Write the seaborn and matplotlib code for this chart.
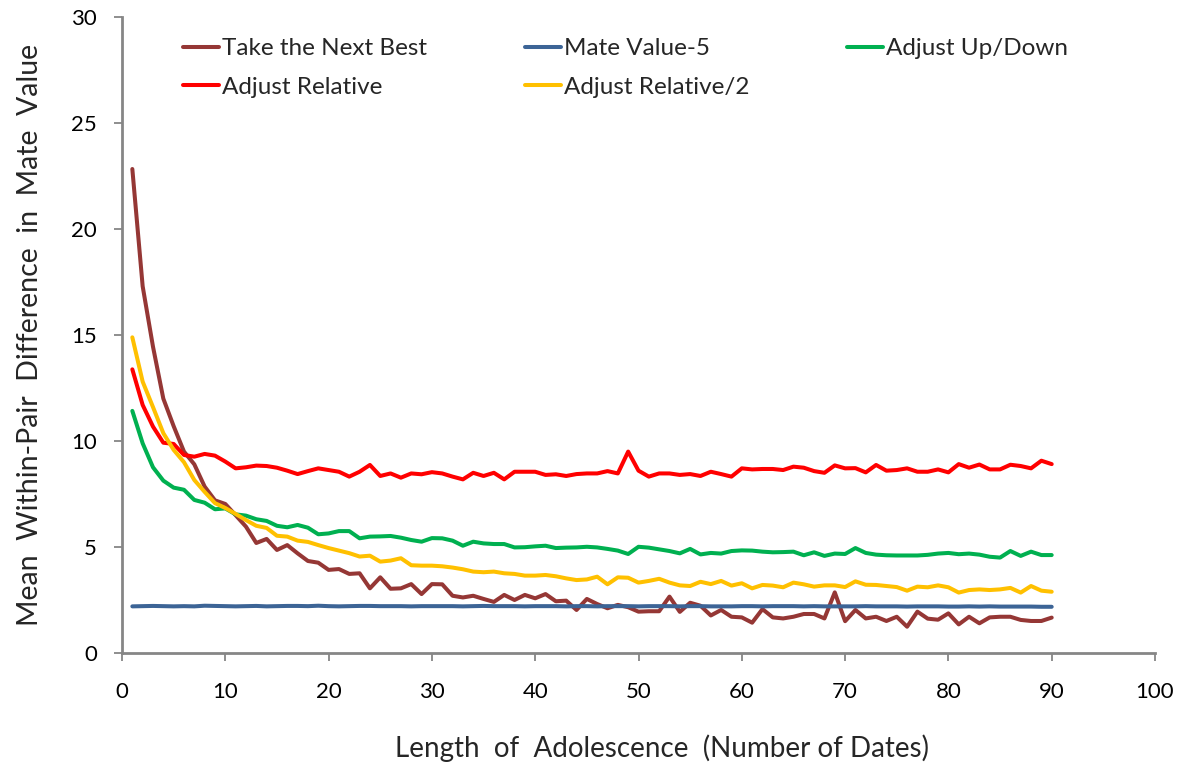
import numpy as np
import pandas as pd
import matplotlib
matplotlib.use("Agg")
import matplotlib.pyplot as plt
import seaborn as sns
from matplotlib.lines import Line2D

# Number of dates in the adolescence period (x axis)
dates = list(range(1, 91))

take_next_best = [
    22.83, 17.30, 14.45, 12.00, 10.70, 9.50, 8.90, 7.85, 7.20, 7.03,
    6.50, 5.96, 5.19, 5.38, 4.86, 5.09, 4.70, 4.34, 4.26, 3.92,
    3.96, 3.73, 3.76, 3.05, 3.57, 3.03, 3.05, 3.25, 2.78, 3.25,
    3.24, 2.70, 2.62, 2.70, 2.55, 2.41, 2.74, 2.50, 2.74, 2.58,
    2.78, 2.44, 2.47, 2.03, 2.55, 2.31, 2.11, 2.27, 2.16, 1.95,
    1.97, 1.97, 2.66, 1.94, 2.37, 2.23, 1.77, 2.03, 1.71, 1.68,
    1.43, 2.07, 1.68, 1.63, 1.71, 1.84, 1.84, 1.63, 2.86, 1.50,
    2.03, 1.63, 1.71, 1.51, 1.71, 1.24, 1.95, 1.62, 1.57, 1.87,
    1.35, 1.71, 1.40, 1.68, 1.71, 1.71, 1.56, 1.51, 1.51, 1.67,
]

mate_value_5 = [
    2.20, 2.21, 2.22, 2.21, 2.20, 2.21, 2.20, 2.23, 2.22, 2.21,
    2.20, 2.21, 2.22, 2.20, 2.21, 2.22, 2.22, 2.21, 2.23, 2.21,
    2.20, 2.21, 2.22, 2.22, 2.21, 2.21, 2.21, 2.20, 2.21, 2.21,
    2.21, 2.21, 2.20, 2.21, 2.22, 2.21, 2.21, 2.21, 2.20, 2.21,
    2.21, 2.21, 2.20, 2.21, 2.21, 2.20, 2.21, 2.21, 2.21, 2.20,
    2.21, 2.21, 2.21, 2.20, 2.21, 2.21, 2.20, 2.20, 2.20, 2.21,
    2.21, 2.20, 2.21, 2.21, 2.21, 2.20, 2.21, 2.20, 2.20, 2.20,
    2.20, 2.21, 2.20, 2.20, 2.20, 2.19, 2.20, 2.20, 2.20, 2.19,
    2.19, 2.20, 2.19, 2.20, 2.19, 2.19, 2.19, 2.19, 2.18, 2.18,
]

adjust_up_down = [
    11.42, 9.89, 8.76, 8.13, 7.80, 7.70, 7.22, 7.09, 6.78, 6.82,
    6.54, 6.48, 6.31, 6.23, 6.00, 5.93, 6.04, 5.91, 5.60, 5.64,
    5.75, 5.75, 5.41, 5.49, 5.50, 5.52, 5.44, 5.33, 5.25, 5.42,
    5.41, 5.30, 5.06, 5.25, 5.17, 5.14, 5.14, 4.98, 4.99, 5.03,
    5.06, 4.95, 4.97, 4.98, 5.01, 4.98, 4.91, 4.83, 4.67, 5.01,
    4.97, 4.89, 4.81, 4.70, 4.91, 4.65, 4.72, 4.69, 4.81, 4.84,
    4.83, 4.78, 4.75, 4.76, 4.78, 4.61, 4.75, 4.58, 4.69, 4.67,
    4.95, 4.72, 4.64, 4.61, 4.60, 4.60, 4.60, 4.63, 4.69, 4.72,
    4.66, 4.69, 4.64, 4.54, 4.50, 4.81, 4.58, 4.78, 4.62, 4.62,
]

adjust_relative = [
    13.38, 11.70, 10.68, 9.92, 9.86, 9.34, 9.26, 9.39, 9.31, 9.03,
    8.71, 8.76, 8.84, 8.82, 8.74, 8.60, 8.44, 8.58, 8.71, 8.63,
    8.55, 8.32, 8.55, 8.87, 8.35, 8.47, 8.27, 8.47, 8.43, 8.53,
    8.47, 8.32, 8.19, 8.50, 8.35, 8.50, 8.19, 8.55, 8.55, 8.55,
    8.40, 8.43, 8.35, 8.44, 8.47, 8.47, 8.58, 8.47, 9.50, 8.60,
    8.32, 8.47, 8.47, 8.40, 8.44, 8.35, 8.55, 8.44, 8.32, 8.71,
    8.66, 8.68, 8.68, 8.63, 8.79, 8.74, 8.58, 8.50, 8.85, 8.71,
    8.72, 8.52, 8.87, 8.60, 8.63, 8.71, 8.55, 8.55, 8.66, 8.52,
    8.91, 8.74, 8.89, 8.66, 8.66, 8.88, 8.82, 8.71, 9.07, 8.91,
]

adjust_relative_half = [
    14.89, 12.80, 11.60, 10.37, 9.58, 9.00, 8.16, 7.60, 7.07, 6.84,
    6.56, 6.27, 6.00, 5.90, 5.53, 5.49, 5.30, 5.24, 5.09, 4.95,
    4.83, 4.71, 4.55, 4.59, 4.31, 4.36, 4.47, 4.14, 4.12, 4.12,
    4.09, 4.03, 3.95, 3.84, 3.81, 3.84, 3.76, 3.73, 3.65, 3.65,
    3.68, 3.62, 3.52, 3.44, 3.47, 3.60, 3.24, 3.57, 3.55, 3.32,
    3.40, 3.50, 3.32, 3.19, 3.16, 3.36, 3.25, 3.40, 3.18, 3.29,
    3.05, 3.21, 3.18, 3.10, 3.32, 3.24, 3.13, 3.19, 3.19, 3.11,
    3.38, 3.22, 3.21, 3.16, 3.11, 2.94, 3.13, 3.10, 3.19, 3.10,
    2.85, 2.97, 3.00, 2.97, 3.00, 3.07, 2.85, 3.16, 2.94, 2.89,
]

strategy_names = ["Take the Next Best", "Mate Value-5", "Adjust Up/Down",
                  "Adjust Relative", "Adjust Relative/2"]
strategy_values = [take_next_best, mate_value_5, adjust_up_down,
                   adjust_relative, adjust_relative_half]
strategy_colors = ["#953735", "#3C6496", "#00B050", "#FF0000", "#FFC000"]

x_ticks = list(range(0, 101, 10))
y_ticks = list(range(0, 31, 5))

df = pd.concat(
    [pd.DataFrame({"dates": dates, "value": vals, "strategy": name})
     for name, vals in zip(strategy_names, strategy_values)],
    ignore_index=True,
)

sns.set_theme(style="white")
plt.rcParams["font.family"] = ["Lato", "DejaVu Sans"]

W, H = 1183, 768
LW = 2.9
fig = plt.figure(figsize=(W / 100, H / 100), dpi=100)
ax = fig.add_axes([122 / W, 1 - 653 / H, (1155 - 122) / W, (653 - 17) / H])

palette = dict(zip(strategy_names, strategy_colors))
sns.lineplot(data=df, x="dates", y="value", hue="strategy",
             hue_order=strategy_names, palette=palette, linewidth=LW,
             legend=False, ax=ax)

ax.set_xlim(0, 100)
ax.set_ylim(0, 30)
ax.set_xticks(x_ticks)
ax.set_yticks(y_ticks)
ax.tick_params(axis="both", which="major", labelsize=16, colors="#868686",
               labelcolor="black", length=6, width=1.3, direction="out",
               left=True, bottom=True)
ax.tick_params(axis="x", pad=15)
ax.tick_params(axis="y", pad=12)

for side in ["top", "right"]:
    ax.spines[side].set_visible(False)
for side in ["left", "bottom"]:
    ax.spines[side].set_color("#868686")
    ax.spines[side].set_linewidth(2.0)

ax.set_xlabel("Length  of  Adolescence  (Number of Dates)", fontsize=20)
ax.set_ylabel("Mean  Within-Pair  Difference  in  Mate  Value", fontsize=20.5)
ax.xaxis.set_label_coords((662 - 122) / 1033, -(748 - 653) / 636)
ax.yaxis.set_label_coords(-(122 - 30) / 1033, 0.5)
ax.xaxis.label.set_va("center")
ax.yaxis.label.set_va("center")

# Legend laid out row by row: three entries on the first row, two on the second
order = [0, 3, 1, 4, 2]
handles = [Line2D([0], [0], color=strategy_colors[i], linewidth=LW) for i in order]
labels = [strategy_names[i] for i in order]
fig.legend(handles, labels, loc="upper left",
           bbox_to_anchor=(183 / W, 1 - 38 / H), ncol=3, frameon=False,
           fontsize=17.5, handlelength=1.5, handletextpad=0.12,
           columnspacing=4.0, labelspacing=0.72, borderpad=0,
           borderaxespad=0)

fig.savefig("out.png", dpi=100)
